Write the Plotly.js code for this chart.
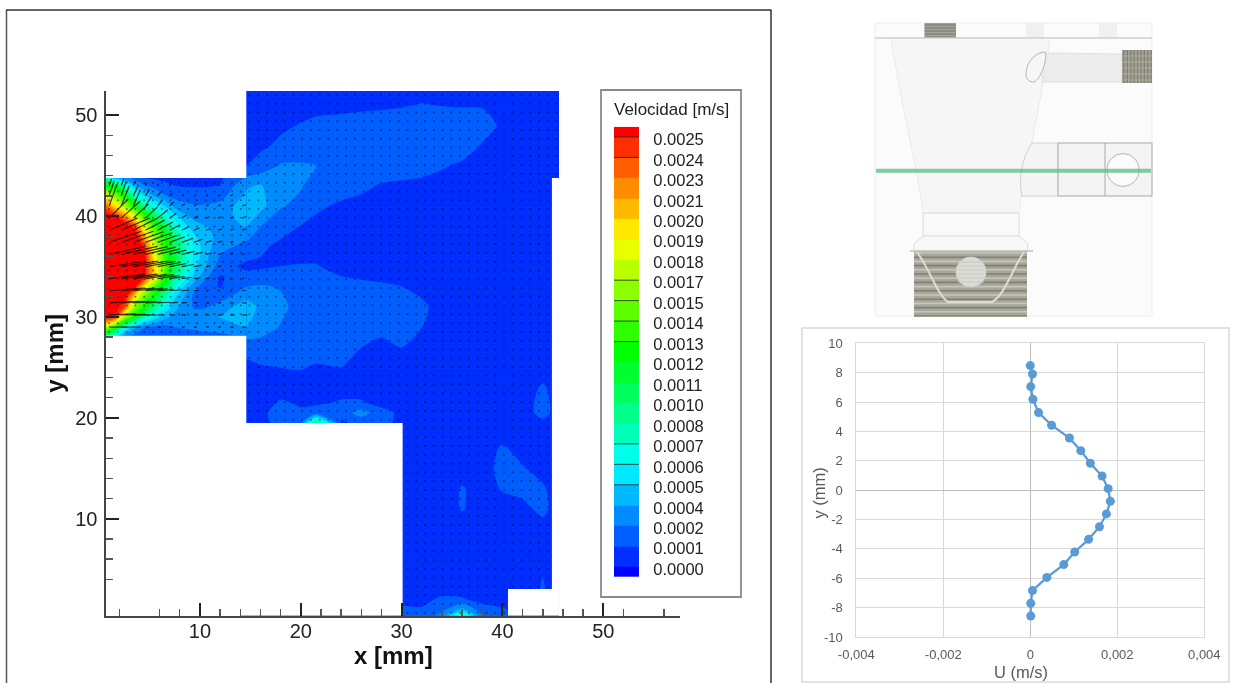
<!DOCTYPE html>
<html>
<head>
<meta charset="utf-8">
<script src="https://cdn.plot.ly/plotly-3.0.1.min.js"></script>
<style>html,body{margin:0;padding:0;background:#fff}#g{width:1234px;height:683px;filter:blur(0.45px)}</style>
</head>
<body>
<div id="g"></div>
<script>
// ---------- velocity field, in 1e-4 m/s ----------
const levelStep = 25 / 21;
const bandColors = ['#0000ff','#002eff','#005dff','#008bff','#00b9ff','#00e8ff','#00ffe8','#00ffb9','#00ff8b','#00ff5d','#00ff2e','#00ff00','#2eff00','#5dff00','#8bff00','#b9ff00','#e8ff00','#ffe800','#ffb900','#ff8b00','#ff5d00','#ff2e00','#ff0000'];
const levelLabels = ['0.0000','0.0001','0.0002','0.0004','0.0005','0.0006','0.0007','0.0008','0.0010','0.0011','0.0012','0.0013','0.0014','0.0015','0.0017','0.0018','0.0019','0.0020','0.0021','0.0023','0.0024','0.0025'];
const barLineLevels = [4,5,6,11,12,13,14,20,21];

const jetX = [0.69,1.5,2.5,3.5,4.5,5.5,6.5,7.5,8.5,9.5,10.5,12,14.6];
const jetY = [43.77,43,42,41,40,39,38,37,36,35,34,33,32,31,30,29,28.15];
const jetZ = [
[8,4,3,2,1.2,1,.9,.9,.9,.9,.9,1,2.5],
[12,12,8,4,2.5,2,1.5,1.2,1.1,1.1,1.1,1.2,3.4],
[19,16,13,8,5,3.5,2.5,2,1.8,1.7,1.7,1.9,3.85],
[23,20,17,13,8.5,6.5,4.8,3.2,2.7,2.5,2.5,2.8,4.3],
[26,25.5,22,18,14,10,7,5.2,3.8,3.2,3.1,3.2,3.95],
[28,28,27,24,18,14,10.5,7,5.2,4,3.6,3.4,3.6],
[29,29,29,27,21,16,13,9.5,6.8,4.9,4,3.2,2.8],
[29,29,29,28.5,24,18,13.5,10.5,7.5,5.5,4.2,2.8,2],
[30,30,30,29,25.5,19,14,11,7.5,5.5,4,2.3,1.45],
[29,30,30,29,25.5,20,15,10.5,7.5,5,3.7,1.7,.9],
[29,29,29,28,25,20,14,9,6.5,4.2,2.8,1.1,1.65],
[28,28,27.5,25.5,19,14.5,11,7,4.5,2.8,1.6,1.1,2.4],
[27,27,26,20,15,12,8,5,3.4,2,1.5,1.8,3.3],
[26,26,24,16,13,9,6,4,3,2.2,2.2,3,4.2],
[26,25,17,12.5,8,5.5,4,3.2,3,3,3.4,3.6,3.9],
[17,14,7,4,2.5,2.2,2,2.4,2.6,2.8,3,3.2,3.6],
[9,7,3,2,1.5,1.3,1.5,1.5,1.5,1.6,1.8,2,2.6]];

const outX = [14,14.6,16,18,20,21.5,24,26,28,30,32,34,36,38,40,42,44,45.6];
const outY = [52.4,51,49,47,45,43,41,39,37,35,33,31,29,27,25,23,21.5,20.5,19.5,18.5,17,15,13,11,9,7,5,3,2,1,0.39];
const outZ = [
[.8,.8,.8,.8,.8,.8,.8,.8,.8,.8,.8,.8,.8,.8,.8,.8,.8,.8],
[.8,.8,.8,.8,.8,.8,.8,.9,1,1.1,1.25,1.15,1.1,1.1,.9,.8,.8,.8],
[.8,.8,.8,1,1.25,1.5,1.7,1.8,1.8,1.8,1.9,1.9,1.9,1.7,1,.8,.8,.8],
[.8,.8,1,1.4,1.7,1.8,1.9,1.9,1.9,1.9,1.9,1.9,1.8,1.1,.9,.8,.8,.8],
[1.2,1.2,1.6,2.5,2.5,2.4,1.9,1.8,1.8,1.7,1.6,1.3,1,.9,.8,.8,.8,.8],
[3.4,3.4,3.7,2.6,2.5,1.8,1.7,1.4,1.1,1,.9,.8,.8,.8,.8,.8,.8,.8],
[4.3,4.3,4,2.5,2,1.4,1,.9,.8,.8,.8,.8,.8,.8,.8,.8,.8,.8],
[3.6,3.6,2.4,1.6,1.15,.9,.8,.8,.8,.8,.8,.8,.8,.8,.8,.8,.8,.8],
[2,2,1.4,.95,.8,.8,.8,.8,.8,.8,.8,.8,.8,.8,.8,.8,.8,.8],
[.9,.9,1,1.2,1.25,1.25,.9,.8,.8,.8,.8,.8,.8,.8,.8,.8,.8,.8],
[2.4,2.4,2.5,2.3,1.7,1.6,1.5,1.4,1.3,1.2,.9,.8,.8,.8,.8,.8,.8,.8],
[4.2,4.2,3.3,2.7,1.9,1.7,1.7,1.7,1.7,1.6,1.4,.8,.8,.8,.8,.8,.8,.8],
[3.6,3.6,3,2.3,1.7,1.7,1.7,1.6,1.5,1.35,1.2,.8,.8,.8,.8,.8,.8,.8],
[1.6,1.6,1.8,1.7,1.6,1.6,1.3,1.2,.9,1.2,.8,.8,.8,.8,.8,.8,.8,.8],
[.9,.9,1.1,1.2,1.25,1.1,1.2,.8,.8,.8,.8,.8,.8,.8,.8,.8,.8,.8],
[.8,.8,.8,.8,.8,.8,.8,.8,.8,.8,.8,.8,.8,.8,.8,.8,1.3,.8],
[.8,.8,.8,1.3,1.1,1,1.3,1.3,.9,.8,.8,.8,.8,.8,.8,.8,1.5,.8],
[.8,.8,.9,1.7,1.3,1.8,1.6,3,1.5,1,.8,.8,.8,.8,.8,.8,1.5,.8],
[1,1,.9,1.5,2,9,1,1.5,1.4,1,.8,.8,.8,.8,.8,.8,1,.8],
[.8,.8,.8,.8,.8,.8,.8,.8,.8,.8,.8,.8,.8,.8,.8,.8,.8,.8],
[.8,.8,.8,.8,.8,.8,.8,.8,.8,.8,.8,.8,.8,.8,1.3,.9,.8,.8],
[.8,.8,.8,.8,.8,.8,.8,.8,.8,.8,.8,.8,.8,.8,1.5,1.25,.9,.8],
[.8,.8,.8,.8,.8,.8,.8,.8,.8,.8,.8,.8,1.25,.9,1.25,1.4,1.3,.8],
[.8,.8,.8,.8,.8,.8,.8,.8,.8,.8,.8,.8,1.25,.8,.9,1,1.4,.8],
[.8,.8,.8,.8,.8,.8,.8,.8,.8,.8,.8,.8,.8,.8,.8,.8,.9,.8],
[.8,.8,.8,.8,.8,.8,.8,.8,.8,.8,.8,.8,.8,.8,.8,.8,.8,.8],
[.8,.8,.8,.8,.8,.8,.8,.8,.8,.8,1.2,.8,.8,.8,.8,1.15,1.15,.8],
[.8,.8,.8,.8,.8,.8,.8,.8,.8,.9,1.1,.8,.8,.8,.8,.8,1.25,.8],
[.8,.8,.8,.8,.8,.8,.8,.8,.8,.8,.9,1.4,1.3,.9,.8,.8,.8,.8],
[.8,.8,.8,.8,.8,.8,.8,.8,.8,1.4,1.3,2,4,1.6,1.3,.8,.8,.8],
[.8,.8,.8,.8,.8,.8,.8,.8,.8,1.5,1.5,3,8,2.4,1.5,.8,.8,.8]];

// ---------- velocity vectors in the jet channel (mm) ----------
const arrowX = [1,2.2,3.4,4.6,5.8,7,8.2,9.4,10.6,11.8,13,14.2];
const arrowY = [43,42,41,39.8,38.6,37.4,36.2,35,33.8,32.6,31.4,30.2,29];
const arrowDx = [
[.25,.25,.2,.1,.1,.1,.1,.1,.1,.1,.1,.1],
[.5,.5,.5,.4,.3,.25,.25,.22,.22,.22,.27,.27],
[.8,.8,.7,.6,.45,.4,.32,.3,.3,.3,.33,.37],
[1.9,1.9,1.5,1.2,1,.65,.5,.4,.37,.37,.37,.42],
[2.8,2.8,2.4,1.9,1.5,1.05,.7,.55,.47,.42,.37,.42],
[3.2,3.2,3,2.65,2,1.5,1.13,.85,.57,.43,.33,.28],
[3.6,3.6,3.4,3,2.25,1.65,1.27,.88,.58,.39,.29,.21],
[3.7,3.7,3.5,3,2.27,1.67,1.18,.79,.49,.3,.2,.15],
[3.6,3.6,3.3,2.8,2.18,1.49,.99,.64,.35,.2,.15,.18],
[3.4,3.3,2.9,2.2,1.6,1.2,.7,.45,.25,.17,.2,.3],
[3,2.8,2.2,1.6,1.2,.8,.5,.35,.3,.3,.35,.45],
[2.6,2.3,1.6,1.1,.7,.5,.4,.35,.35,.4,.45,.5],
[1.8,1.3,.7,.4,.3,.3,.3,.3,.3,.3,.35,.4]];
const arrowDy = [
[.7,.7,.5,.3,.2,.15,.1,.1,.05,.05,.05,.05],
[1.5,1.5,1.1,.7,.35,.25,.15,.12,.1,.1,.1,.1],
[2.2,2,1.6,.95,.55,.4,.22,.17,.12,.12,.12,.14],
[1.9,1.7,1.4,1.1,.8,.45,.3,.2,.14,.14,.14,.16],
[1.2,1.2,1.2,1,.8,.55,.35,.22,.15,.14,.14,.15],
[1.1,1.1,1.05,.95,.7,.55,.4,.3,.17,.12,.1,.08],
[.8,.8,.78,.72,.55,.42,.3,.2,.14,.09,.07,.05],
[.55,.55,.55,.5,.4,.3,.2,.14,.08,.05,.03,.03],
[.45,.45,.43,.39,.3,.2,.14,.09,.05,.03,.02,.03],
[.26,.26,.24,.19,.14,.1,.06,.04,.02,.02,.02,.03],
[.15,.15,.12,.08,.06,.04,.03,.02,0,0,0,0],
[.1,.05,0,0,0,0,0,0,0,0,0,0],
[0,0,0,0,0,0,0,0,0,0,0,0]];

// measurement nodes (mm)
const nodeX = [1,1.87,2.74,3.61,4.48,5.35,6.22,7.09,7.96,8.83,9.7,10.57,11.44,12.31,13.18,14.05,14.92,15.79,16.66,17.53,18.4,19.27,20.14,21.01,21.88,22.75,23.62,24.49,25.36,26.23,27.1,27.97,28.84,29.71,30.58,31.45,32.32,33.19,34.06,34.93,35.8,36.67,37.54,38.41,39.28,40.15,41.02,41.89,42.76,43.63,44.5,45.37];
const nodeY = [0.68,1.55,2.42,3.29,4.16,5.03,5.9,6.77,7.64,8.51,9.38,10.25,11.12,11.99,12.86,13.73,14.6,15.47,16.34,17.21,18.08,18.95,19.82,20.69,21.56,22.43,23.3,24.17,25.04,25.91,26.78,27.65,28.52,29.39,30.26,31.13,32,32.87,33.74,34.61,35.48,36.35,37.22,38.09,38.96,39.83,40.7,41.57,42.44,43.31,44.18,45.05,45.92,46.79,47.66,48.53,49.4,50.27,51.14,52.01];

// region outside the measured domain (mm)
const blankX = [0.69,14.6,14.6,0.69,0.69,null, 0.69,30.1,30.1,14.6,14.6,0.69,0.69,null, 44.9,45.6,45.6,44.9,44.9,null, 40.55,44.9,44.9,40.55,40.55];
const blankY = [43.77,43.77,52.4,52.4,43.77,null, 0.39,0.39,19.5,19.5,28.15,28.15,0.39,null, 0.39,0.39,43.77,43.77,0.39,null, 0.39,0.39,3.03,3.03,0.39];

// axis ticks
const xMinorTicks = [2,6,8,12,14,16,18,22,24,26,28,32,34,36,38,42,44,46,48,52,56];
const yMinorTicks = [4,6,8,12,14,16,18,22,24,26,28,32,34,36,38,42,44,46,48];

// ---------- profile chart ----------
const profileU = [0,0.00005,0.00001,0.00006,0.00019,0.00049,0.0009,0.00116,0.00138,0.00165,0.00179,0.00184,0.00175,0.00159,0.00134,0.00102,0.00077,0.00038,0.00005,0.00001,0.00001];
const profileY = [8.48,7.91,7.05,6.19,5.28,4.42,3.55,2.69,1.83,0.96,0.10,-0.76,-1.62,-2.49,-3.35,-4.21,-5.07,-5.94,-6.84,-7.71,-8.57];
const uTicks = [-0.004,-0.002,0,0.002,0.004];
const uTickText = ['-0,004','-0,002','0','0,002','0,004'];
const yTicks = [-10,-8,-6,-4,-2,0,2,4,6,8,10];
const yTickText = ['-10','-8','-6','-4','-2','0','2','4','6','8','10'];

// ---------- helpers ----------
const W = 1234, H = 683;
const px = x => x / W, py = y => 1 - y / H;
const FONT = 'Liberation Sans, Arial, sans-serif';
const n = bandColors.length - 1;
const colorscale = bandColors.map((c, i) => [i / n, c]);
const rev = a => a.slice().reverse();

const inDomain = (x, y) => {
  if (x < 0.69 || x > 45.6 || y < 0.39 || y > 52.4) return false;
  if (x < 14.6 && (y > 43.77 || y < 28.15)) return false;
  if (x < 30.1 && y < 19.5) return false;
  if (x > 44.9 && y < 43.77) return false;
  if (x > 40.55 && y < 3.03) return false;
  return true;
};
const dotsX = [], dotsY = [];
nodeX.forEach(x => nodeY.forEach(y => { if (inDomain(x, y)) { dotsX.push(x); dotsY.push(y); } }));
const vecX = [], vecY = [];
arrowY.forEach((y, r) => arrowX.forEach((x, c) => {
  vecX.push(x, x + arrowDx[r][c], null);
  vecY.push(y, y + arrowDy[r][c], null);
}));
const barLineX = [], barLineY = [];
barLineLevels.forEach(l => { barLineX.push(0, 1, null); barLineY.push(l, l, null); });

const contourBase = {
  type: 'contour', autocontour: false, showscale: false, hoverinfo: 'skip',
  contours: {start: 0, end: 25, size: levelStep, coloring: 'fill', showlines: false},
  line: {width: 0, smoothing: 0.6},
  zauto: false, zmin: -levelStep / 2, zmax: 21.5 * levelStep, colorscale
};

const traces = [
  Object.assign({}, contourBase, {x: outX, y: rev(outY), z: rev(outZ), xaxis: 'x', yaxis: 'y'}),
  Object.assign({}, contourBase, {x: jetX, y: rev(jetY), z: rev(jetZ), xaxis: 'x', yaxis: 'y'}),
  {type: 'scatter', mode: 'lines', x: blankX, y: blankY, fill: 'toself', fillcolor: '#ffffff', line: {width: 0, color: '#ffffff'}, hoverinfo: 'skip', showlegend: false},
  {type: 'scatter', mode: 'markers', x: dotsX, y: dotsY, marker: {size: 2, color: '#000', opacity: 0.5}, hoverinfo: 'skip', showlegend: false},
  {type: 'scatter', mode: 'lines', x: vecX, y: vecY, line: {width: 1.2, color: '#000'}, opacity: 0.75, hoverinfo: 'skip', showlegend: false},
  // colour key
  {type: 'heatmap', x: [0, 1], y: [-0.5].concat(levelLabels.map((_, i) => i)).concat([21.5]), z: bandColors.map((_, i) => [i]), zmin: 0, zmax: n, colorscale, showscale: false, xaxis: 'x3', yaxis: 'y3', hoverinfo: 'skip'},
  {type: 'scatter', mode: 'lines', x: barLineX, y: barLineY, xaxis: 'x3', yaxis: 'y3', line: {color: '#222', width: 1}, opacity: 0.8, hoverinfo: 'skip', showlegend: false},
  // profile
  {type: 'scatter', mode: 'lines+markers', x: profileU, y: profileY, xaxis: 'x2', yaxis: 'y2', line: {color: '#5b9bd5', width: 2.25}, marker: {color: '#5b9bd5', size: 9}, showlegend: false}
];

// ---------- frames and the CAD picture (page pixels) ----------
const shapes = [];
const rect = (x0, y0, x1, y1, fill, line, w) => shapes.push({type: 'rect', xref: 'paper', yref: 'paper', x0: px(x0), x1: px(x1), y0: py(y0), y1: py(y1), fillcolor: fill || 'rgba(0,0,0,0)', line: {color: line || 'rgba(0,0,0,0)', width: line ? (w || 1) : 0}});
const seg = (x0, y0, x1, y1, c, w) => shapes.push({type: 'line', xref: 'paper', yref: 'paper', x0: px(x0), x1: px(x1), y0: py(y0), y1: py(y1), line: {color: c, width: w || 1}});
const circ = (cx, cy, rx, ry, fill, line, w) => shapes.push({type: 'circle', xref: 'paper', yref: 'paper', x0: px(cx - rx), x1: px(cx + rx), y0: py(cy - ry), y1: py(cy + ry), fillcolor: fill || 'rgba(0,0,0,0)', line: {color: line || 'rgba(0,0,0,0)', width: line ? (w || 1) : 0}});
const path = (cmds, fill, line, w) => shapes.push({type: 'path', xref: 'paper', yref: 'paper', path: cmds.map(c => c[0] + (c.length > 1 ? c.slice(1).map((v, i) => i % 2 ? py(v) : px(v)).join(' ') : '')).join(' '), fillcolor: fill || 'rgba(0,0,0,0)', line: {color: line || 'rgba(0,0,0,0)', width: line ? (w || 1) : 0}});

// outer frames
seg(6.5, 10, 6.5, 683, '#555', 1.5); seg(6, 10, 771.5, 10, '#333', 1.5); seg(771, 10, 771, 683, '#333', 1.5);
rect(802, 328, 1229, 682, null, '#d9d9d9', 1.5);
rect(601, 90, 741, 597, null, '#8a8a8a', 1.8);

// CAD panel
rect(875, 23, 1152, 316, '#fbfbfb', '#eeeeee', 1);
path([['M',891,38],['C',900,100,918,170,923,213],['L',1019,213],['C',1025,170,1042,100,1050,38],['Z']], '#f6f6f6', '#ebebeb', 1);
rect(1026, 23, 1044, 38, '#f0f0f0');
rect(1099, 23, 1117, 38, '#f0f0f0');
rect(924.5, 23, 956, 38, '#a4a498');
for (const y of [25,28,31,34,37]) seg(924.5, y, 956, y, '#7f7f74', 1.3);
seg(875, 38, 1152, 38, '#cfcfcf', 1.5);
// upper branch
path([['M',1045,53],['L',1122,54],['L',1122,82],['L',1042,82],['Z']], '#ececec', '#e0e0e0', 1);
path([['M',1045,52],['C',1038,52,1026,60,1026,74],['C',1026,80,1030,82,1034,82],['C',1040,80,1048,60,1045,52],['Z']], '#f6f6f6', '#b5b5b5', 1);
rect(1122, 50, 1152, 83, '#a0a094');
for (let i = 0; i < 9; i++) seg(1124 + i * 3.4, 50, 1124 + i * 3.4, 83, '#7d7d72', 1.2);
for (const y of [56,62,68,74,80]) seg(1122, y, 1152, y, '#b2b2a6', 0.8);
// lower branch
path([['M',1032,143],['C',1022,158,1018,178,1022,196],['L',1058,196],['L',1058,143],['Z']], '#f5f5f5', '#d0d0d0', 1);
rect(1058, 143, 1152, 196, '#f4f4f4', '#a9a9a9', 1);
seg(1105, 143, 1105, 196, '#a9a9a9', 1);
circ(1123, 170, 16, 16.5, '#fbfbfb', '#b5b5b5', 1);
// neck
rect(923, 213, 1019, 236, '#f9f9f9', '#dcdcdc', 1);
path([['M',923,236],['L',1019,236],['L',1028,244],['L',1027,251],['L',914,251],['L',914,244],['Z']], '#f8f8f8', '#dddddd', 1);
// lower thread
rect(914, 251, 1027, 316, '#a6a69a');
for (let y = 253; y < 316; y += 4.2) seg(914, y, 1027, y, y % 8 < 4 ? '#7f7f73' : '#c6c6bc', 1.6);
seg(910, 251, 1033, 251, '#c2c2b8', 1.6);
path([['M',917,252],['C',930,270,938,296,948,302],['L',992,302],['C',1004,296,1012,270,1024,252]], null, '#dcdcd4', 2);
circ(971, 272, 15, 15, '#dcdcd6', '#cfcfc8', 1);
for (const y of [262,266,270,274,278,282]) seg(958, y, 984, y, '#c8c8c2', 1);
// section plane
seg(876, 170.7, 1151, 170.7, 'rgba(85,190,140,0.75)', 4);

const annotations = [
  {xref: 'paper', yref: 'paper', x: px(671), y: py(109), text: 'Velocidad [m/s]', showarrow: false, xanchor: 'center', yanchor: 'middle', font: {family: FONT, size: 17, color: '#222'}},
  {xref: 'paper', yref: 'paper', x: px(393), y: py(655), text: '<b>x [mm]</b>', showarrow: false, xanchor: 'center', yanchor: 'middle', font: {family: FONT, size: 24, color: '#111'}},
  {xref: 'paper', yref: 'paper', x: px(1020.5), y: py(672), text: 'U (m/s)', showarrow: false, xanchor: 'center', yanchor: 'middle', font: {family: FONT, size: 16.5, color: '#595959'}},
  {xref: 'paper', yref: 'paper', x: px(818.5), y: py(493), text: 'y (mm)', textangle: -90, showarrow: false, xanchor: 'center', yanchor: 'middle', font: {family: FONT, size: 16.5, color: '#595959'}}
];

const layout = {
  width: W, height: H, margin: {l: 0, r: 0, t: 0, b: 0, pad: 0},
  paper_bgcolor: '#fff', plot_bgcolor: 'rgba(0,0,0,0)', showlegend: false,
  xaxis: {domain: [px(106), px(680)], range: [0.69, 57.6], tick0: 0, dtick: 10, ticks: 'inside', ticklen: 13, tickwidth: 2, tickcolor: '#222',
    minor: {tickmode: 'array', tickvals: xMinorTicks, ticks: 'inside', ticklen: 7, tickwidth: 1.4, tickcolor: '#555', showgrid: false},
    showline: true, linecolor: '#444', linewidth: 2.5, showgrid: false, zeroline: false, anchor: 'y', ticklabelstandoff: -4,
    tickfont: {family: FONT, size: 20, color: '#222'}},
  yaxis: {domain: [py(615.7), py(91)], range: [0.39, 52.4], tick0: 0, dtick: 10, ticks: 'inside', ticklen: 13, tickwidth: 2, tickcolor: '#222',
    minor: {tickmode: 'array', tickvals: yMinorTicks, ticks: 'inside', ticklen: 7, tickwidth: 1.4, tickcolor: '#555', showgrid: false},
    showline: true, linecolor: '#444', linewidth: 2.5, showgrid: false, zeroline: false, anchor: 'x', ticklabelstandoff: 2,
    tickfont: {family: FONT, size: 20, color: '#222'}, title: {text: '<b>y [mm]</b>', standoff: 5, font: {family: FONT, size: 24, color: '#111'}}},
  xaxis2: {domain: [px(856.3), px(1204.3)], range: [-0.004, 0.004], anchor: 'y2', tickmode: 'array', tickvals: uTicks, ticktext: uTickText, ticks: '', gridcolor: '#d9d9d9', gridwidth: 1, zeroline: true, zerolinecolor: '#bfbfbf', zerolinewidth: 1, showline: true, mirror: true, linecolor: '#d9d9d9', linewidth: 1, ticklabelstandoff: 5, tickfont: {family: FONT, size: 13, color: '#595959'}, automargin: false},
  yaxis2: {domain: [py(637), py(343.3)], range: [-10, 10], anchor: 'x2', tickmode: 'array', tickvals: yTicks, ticktext: yTickText, ticks: '', gridcolor: '#d9d9d9', gridwidth: 1, zeroline: true, zerolinecolor: '#bfbfbf', zerolinewidth: 1, showline: true, mirror: true, linecolor: '#d9d9d9', linewidth: 1, ticklabelstandoff: 10, tickfont: {family: FONT, size: 13, color: '#595959'}, automargin: false},
  xaxis3: {domain: [px(614), px(639.3)], range: [0, 1], anchor: 'y3', visible: false},
  yaxis3: {domain: [py(576.9), py(126.7)], range: [-0.5, 21.5], anchor: 'x3', side: 'right', tickmode: 'array', tickvals: levelLabels.map((_, i) => i - 0.12), ticktext: levelLabels, ticks: '', showline: false, showgrid: false, zeroline: false, ticklabelstandoff: 13, tickfont: {family: FONT, size: 16.5, color: '#222'}},
  shapes, annotations
};

Plotly.newPlot('g', traces, layout, {staticPlot: true, displayModeBar: false});
</script>
</body>
</html>
